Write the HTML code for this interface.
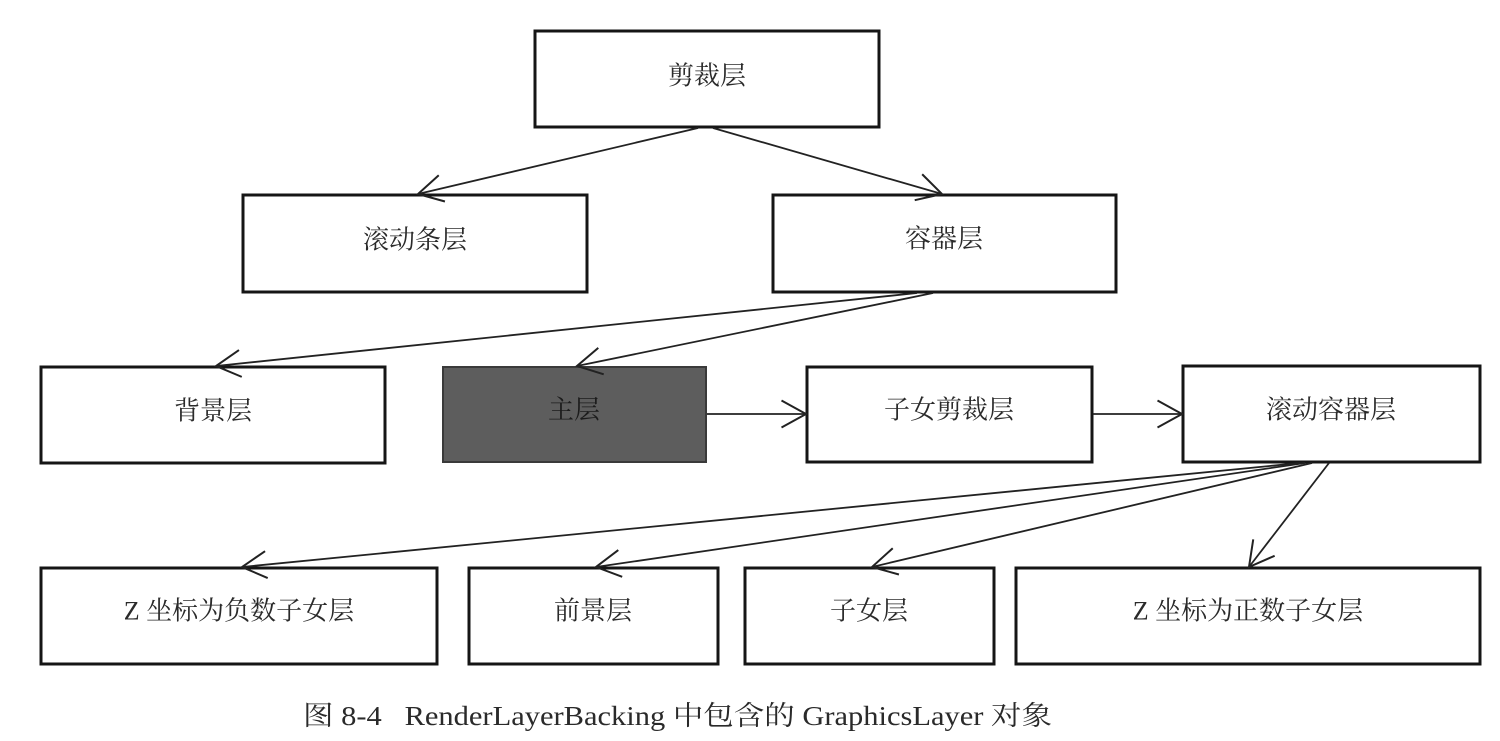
<!DOCTYPE html>
<html><head><meta charset="utf-8"><style>
html,body{margin:0;padding:0;background:#fff;}
svg{display:block;}
.b{fill:#fff;stroke:#151515;stroke-width:3;}
.t{font-family:"Liberation Serif","Noto Serif CJK SC",serif;font-size:26px;fill:#2a2a2a;text-anchor:middle;dominant-baseline:central;}
.l{stroke:#222;stroke-width:1.8;fill:none;marker-end:url(#a);}
</style></head><body>
<svg width="1500" height="741" viewBox="0 0 1500 741" xmlns="http://www.w3.org/2000/svg">
<defs>
<marker id="a" viewBox="0 0 30 30" refX="28" refY="15" markerWidth="30" markerHeight="30" markerUnits="userSpaceOnUse" orient="auto" overflow="visible">
<path d="M3.5,1.5 L28,15 L3.5,28.5" fill="none" stroke="#222" stroke-width="2"/>
</marker>
</defs>
<rect width="1500" height="741" fill="#fff"/>

<!-- boxes -->
<rect class="b" x="535" y="31" width="344" height="96"/>
<text class="t" x="707" y="76">剪裁层</text>

<rect class="b" x="243" y="195" width="344" height="97"/>
<text class="t" x="415" y="240">滚动条层</text>

<rect class="b" x="773" y="195" width="343" height="97"/>
<text class="t" x="944" y="239">容器层</text>

<rect class="b" x="41" y="367" width="344" height="96"/>
<text class="t" x="213" y="411">背景层</text>

<rect x="443" y="367" width="263" height="95" fill="#5d5d5d" stroke="#3a3a3a" stroke-width="2"/>
<text class="t" x="574" y="410" style="fill:#1c1c1c">主层</text>

<rect class="b" x="807" y="367" width="285" height="95"/>
<text class="t" x="949" y="410">子女剪裁层</text>

<rect class="b" x="1183" y="366" width="297" height="96"/>
<text class="t" x="1331" y="410">滚动容器层</text>

<rect class="b" x="41" y="568" width="396" height="96"/>
<text class="t" x="239" y="611">Z 坐标为负数子女层</text>

<rect class="b" x="469" y="568" width="249" height="96"/>
<text class="t" x="593" y="611">前景层</text>

<rect class="b" x="745" y="568" width="249" height="96"/>
<text class="t" x="869" y="611">子女层</text>

<rect class="b" x="1016" y="568" width="464" height="96"/>
<text class="t" x="1248" y="611">Z 坐标为正数子女层</text>

<!-- connectors -->
<line class="l" x1="698" y1="128" x2="418" y2="194"/>
<line class="l" x1="713" y1="128" x2="942" y2="194"/>
<line class="l" x1="917" y1="293" x2="216" y2="366"/>
<line class="l" x1="933" y1="293" x2="577" y2="366"/>
<line class="l" x1="707" y1="414" x2="806" y2="414"/>
<line class="l" x1="1093" y1="414" x2="1182" y2="414"/>
<line class="l" x1="1300" y1="463" x2="242" y2="567"/>
<line class="l" x1="1305" y1="463" x2="596" y2="567"/>
<line class="l" x1="1312" y1="463" x2="872" y2="567"/>
<line class="l" x1="1329" y1="463" x2="1249" y2="567"/>

<!-- caption -->
<text x="303" y="716" style="font-family:'Liberation Serif','Noto Serif CJK SC',serif;font-size:27px;fill:#2a2a2a;dominant-baseline:central;" textLength="749" lengthAdjust="spacingAndGlyphs" xml:space="preserve">图 8-4   RenderLayerBacking 中包含的 GraphicsLayer 对象</text>
</svg>
</body></html>
